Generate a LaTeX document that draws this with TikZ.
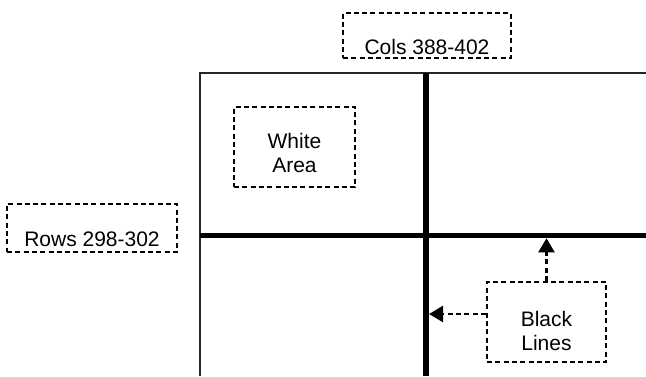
\documentclass[tikz,border=0pt]{standalone}
\usepackage{fontspec}
\setmainfont{Liberation Sans}
\usetikzlibrary{arrows.meta,calc}
\begin{document}
\begin{tikzpicture}[x=1pt,y=-1pt,
  dbox/.style={draw, line width=2.3pt, dash pattern=on 5pt off 3.3pt, inner sep=0pt},
  txt/.style={font=\fontsize{21}{24}\selectfont, align=center, inner sep=0pt},
  thinline/.style={line width=1.8pt, draw=black!85},
  thickline/.style={line width=5.5pt},
  darrow/.style={line width=2.3pt, dash pattern=on 5pt off 3.3pt, -{Triangle[width=16pt,length=14pt]}}]
\useasboundingbox (0,0) rectangle (646,376);
% frame
\coordinate (tl) at (200,73);
\draw[thinline] (200,376) -- (tl) -- (646,73);
\coordinate (vtop) at (426.2,73);
\coordinate (vbot) at (426.2,376);
\coordinate (hleft) at (200,235.5);
\coordinate (hright) at (646,235.5);
\draw[thickline] (vtop) -- (vbot);
\draw[thickline] (hleft) -- (hright);
% boxes
\node[dbox, txt, minimum width=168pt, text height=41pt, text depth=4pt] (cols) at (427,35.5) {Cols 388-402};
\node[dbox, txt, minimum width=170pt, text height=42.4pt, text depth=5.6pt] (rows) at (92,228) {Rows 298-302};
\node[dbox, minimum width=121pt, minimum height=80pt] (white) at (294.5,147) {};
\node[txt] (whitetxt) at ($(white.center)+(0,6)$) {White\\Area};
\node[dbox, minimum width=119pt, minimum height=80pt] (black) at (546.5,322) {};
\node[txt] (blacktxt) at ($(black.center)+(0,9)$) {Black\\Lines};
% arrows
\coordinate (hlb) at (646,238.3);
\coordinate (vlr) at (429,376);
\coordinate (bw) at ([yshift=8pt]black.west);
\draw[darrow] (black.north) -- (black.north |- hlb);
\draw[darrow] (bw) -- (vlr |- bw);
\end{tikzpicture}
\end{document}
